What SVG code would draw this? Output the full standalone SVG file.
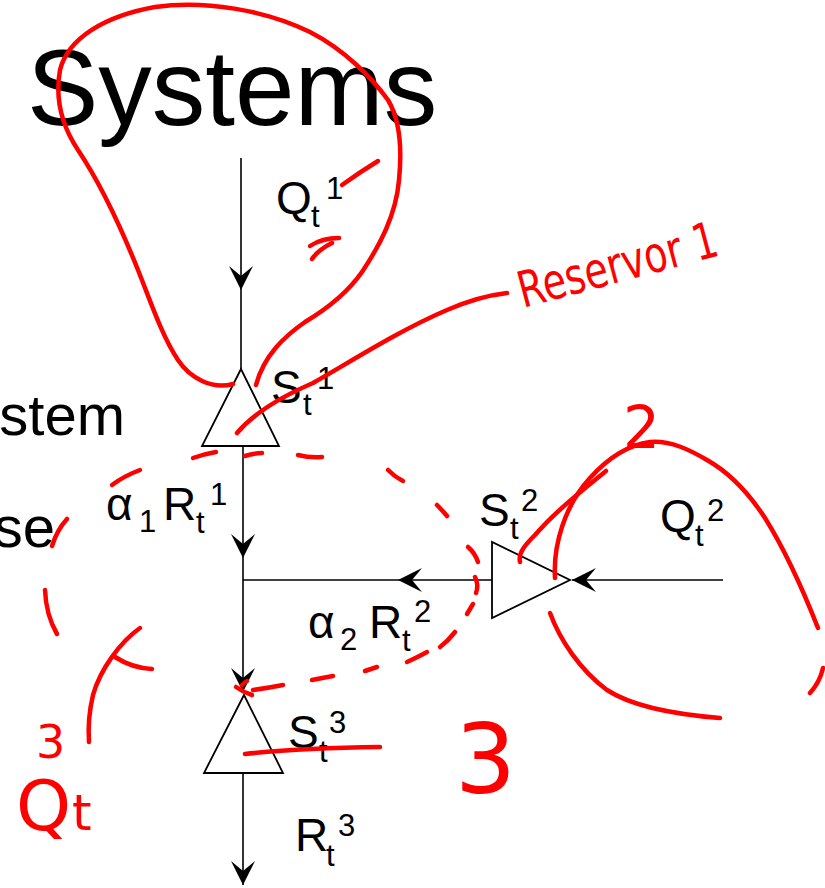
<svg xmlns="http://www.w3.org/2000/svg" width="825" height="888" viewBox="0 0 825 888">
<style>
  .t { font-family: "Liberation Sans", Arial, sans-serif; fill: #000; }
  .lbl { font-size: 46px; }
  .s { font-size: 31px; }
  .ln { stroke: #000; stroke-width: 1.6; fill: none; }
  .tri { stroke: #000; stroke-width: 1.8; fill: #fff; }
  .red { stroke: #ff0000; stroke-width: 4.5; fill: none; stroke-linecap: round; stroke-linejoin: round; }
  .hw { font-family: "DejaVu Sans", "Liberation Sans", sans-serif; fill: #ff0000; }
</style>
<defs>
  <marker id="arr" viewBox="-25 -13 26 26" refX="0" refY="0" markerWidth="26" markerHeight="26" markerUnits="userSpaceOnUse" orient="auto">
    <path d="M0,0 L-24,-12 L-14,0 L-24,12 Z" fill="#000"/>
  </marker>
</defs>
<rect width="825" height="888" fill="#fff"/>

<g id="slide-text">
  <text class="t" x="27" y="125" font-size="107">Systems</text>
  <text class="t" x="125" y="435" font-size="58" text-anchor="end">stem</text>
  <text class="t" x="55" y="547" font-size="58" text-anchor="end">se</text>
</g>

<g id="connectors">
  <path class="ln" d="M241,158 V290" marker-end="url(#arr)"/>
  <path class="ln" d="M241,290 V369"/>
  <path class="ln" d="M243,446 V558" marker-end="url(#arr)"/>
  <path class="ln" d="M243,558 V692" marker-end="url(#arr)"/>
  <path class="ln" d="M492,580 H398" marker-end="url(#arr)"/>
  <path class="ln" d="M398,580 H243" stroke-width="2.4"/>
  <path class="ln" d="M723,580 H572" marker-end="url(#arr)"/>
  <path class="ln" d="M243,773 V885" marker-end="url(#arr)"/>
  <text class="t lbl" x="276" y="214">Q<tspan class="s" x="311" y="227">t</tspan><tspan class="s" x="326" y="199">1</tspan></text>
  <text class="t lbl" x="106" y="520">α<tspan class="s" x="139" y="532">1</tspan><tspan x="163" y="520">R</tspan><tspan class="s" x="196" y="533">t</tspan><tspan class="s" x="210" y="505">1</tspan></text>
  <text class="t lbl" x="308" y="638">α<tspan class="s" x="340" y="650">2</tspan><tspan x="369" y="638">R</tspan><tspan class="s" x="402" y="651">t</tspan><tspan class="s" x="414" y="622">2</tspan></text>
  <text class="t lbl" x="660" y="532">Q<tspan class="s" x="695" y="546">t</tspan><tspan class="s" x="707" y="521">2</tspan></text>
  <text class="t lbl" x="295" y="851">R<tspan class="s" x="326" y="866">t</tspan><tspan class="s" x="338" y="836">3</tspan></text>
</g>

<g id="reservoir1">
  <polygon class="tri" points="241,369 202,446 279,446"/>
  <text class="t lbl" x="271" y="403">S<tspan class="s" x="303" y="415">t</tspan><tspan class="s" x="317" y="389">1</tspan></text>
</g>
<g id="reservoir2">
  <polygon class="tri" points="492,542 492,618 570,580"/>
  <text class="t lbl" x="479" y="526">S<tspan class="s" x="510" y="539">t</tspan><tspan class="s" x="521" y="511">2</tspan></text>
</g>
<g id="reservoir3">
  <polygon class="tri" points="244,695 204,773 283,773"/>
  <text class="t lbl" x="288" y="748">S<tspan class="s" x="319" y="762">t</tspan><tspan class="s" x="329" y="733">3</tspan></text>
</g>

<g id="annotations">
  <path class="red" d="M233,384 C212,390 190,378 178,360 C162,336 150,300 138,270 C120,225 98,180 78,150 C62,126 55,98 60,70 C68,38 105,16 155,7 C205,0 265,10 310,32 C345,50 372,78 388,100 C400,120 402,150 399,180 C396,215 380,245 362,272 C346,295 325,310 305,322 C285,336 264,355 256,385"/>
  <path class="red" d="M342,185 Q360,172 378,161"/>
  <path class="red" d="M310,246 Q322,238 339,238"/>
  <path class="red" d="M312,259 Q318,250 332,243"/>
  <path class="red" d="M237,433 C255,412 285,395 313,383 C350,362 400,330 447,310 C470,300 490,295 507,293"/>
  <text class="hw" transform="translate(523,308) rotate(-15)" font-size="50" textLength="205" lengthAdjust="spacingAndGlyphs">Reservor 1</text>

  <path class="red" d="M112,485 Q124,476 140,470"/>
  <path class="red" d="M193,458 Q204,454 216,452"/>
  <path class="red" d="M245,456 Q254,453 262,453"/>
  <path class="red" d="M298,455 Q310,458 322,457"/>
  <path class="red" d="M388,470 Q395,477 403,481"/>
  <path class="red" d="M437,505 Q442,510 447,516"/>
  <path class="red" d="M468,547 Q475,553 478,562"/>
  <path class="red" d="M475,577 Q479,585 476,593"/>
  <path class="red" d="M473,604 L467,614"/>
  <path class="red" d="M455,632 Q448,641 440,647"/>
  <path class="red" d="M427,652 Q418,657 407,662"/>
  <path class="red" d="M377,667 Q371,669 365,671"/>
  <path class="red" d="M333,676 Q322,678 312,680"/>
  <path class="red" d="M283,685 Q268,688 253,690"/>
  <path class="red" d="M236,687 Q243,692 252,695"/>
  <path class="red" d="M247,681 Q244,683 242,685"/>
  <path class="red" d="M52,546 Q57,530 67,519"/>
  <path class="red" d="M45,590 Q46,615 57,634"/>
  <path class="red" d="M140,628 C120,642 100,670 93,695 C89,712 88,728 89,742"/>
  <path class="red" d="M115,657 Q132,668 152,669"/>

  <path class="red" d="M520,562 C518,553 525,545 535,535 C555,512 580,492 606,471"/>
  <path class="red" d="M555,578 C553,545 565,505 590,478 C608,458 628,445 650,442 C670,440 690,450 707,460 C730,473 750,495 765,518 C785,550 805,595 818,628"/>
  <path class="red" d="M823,668 Q820,682 810,693"/>
  <path class="red" d="M550,613 C560,640 580,670 607,690 C630,705 670,714 720,718"/>
  <text class="hw" x="623" y="448" font-size="58">2</text>

  <path class="red" d="M245,754 Q300,748 380,747"/>
  <text class="hw" x="455" y="793" font-size="96">3</text>

  <text class="hw" x="16" y="830" font-size="70">Q<tspan x="72" y="830" font-size="50">t</tspan><tspan x="36" y="758" font-size="46">3</tspan></text>
</g>
</svg>
